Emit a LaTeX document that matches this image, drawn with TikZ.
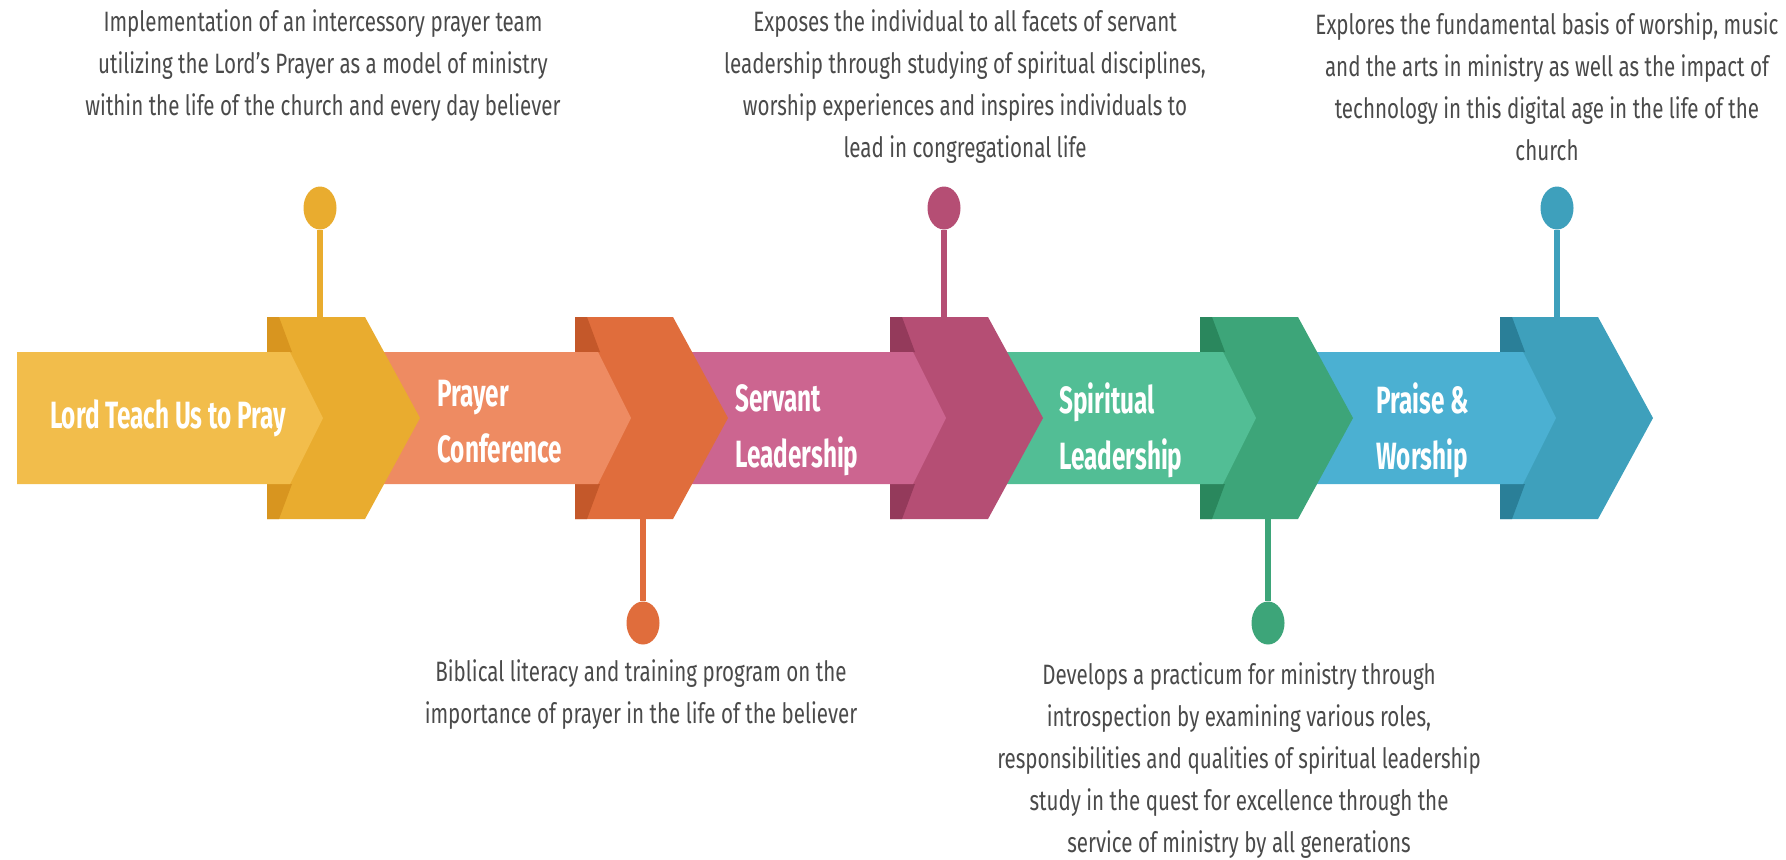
\documentclass[tikz,border=0pt]{standalone}
\usepackage{fontspec}
\setmainfont{Fira Sans}[FakeStretch=0.735]
\newfontfamily\tightfont{Fira Sans}[FakeStretch=0.64]
\usetikzlibrary{shapes.geometric}
\definecolor{GoldA}{HTML}{F2BD4B}\definecolor{GoldB}{HTML}{E9AC2F}\definecolor{GoldC}{HTML}{D8951F}
\definecolor{RustA}{HTML}{EE8B62}\definecolor{RustB}{HTML}{E06D3C}\definecolor{RustC}{HTML}{C4582A}
\definecolor{PlumA}{HTML}{CC6590}\definecolor{PlumB}{HTML}{B54E74}\definecolor{PlumC}{HTML}{943A5B}
\definecolor{MintA}{HTML}{52BE95}\definecolor{MintB}{HTML}{3DA579}\definecolor{MintC}{HTML}{2A875D}
\definecolor{SkyA}{HTML}{4BB0D2}\definecolor{SkyB}{HTML}{3EA0BC}\definecolor{SkyC}{HTML}{2A7F98}
\definecolor{Note}{HTML}{4A4A4A}

\begin{document}
\begin{tikzpicture}[x=.5pt,y=-.5pt,
  lbl/.style={text=white,font=\tightfont\fontsize{19}{28}\selectfont\bfseries,align=left,inner sep=0pt},
  note/.style={text=Note,font=\fontsize{14}{21}\selectfont,align=center,inner sep=0pt},
  dot/.style={ellipse,minimum width=16.5pt,minimum height=21.5pt,inner sep=0pt},
  stem/.style={line width=3pt}]
\useasboundingbox (0,0) rectangle (1786,859);
% right to left, so each chevron hides the start of the next bar
\foreach \c/\s/\lt/\dk/\fd in {1500/1298/SkyA/SkyB/SkyC,1200/988/MintA/MintB/MintC,
  890/673/PlumA/PlumB/PlumC,575/365/RustA/RustB/RustC,267/17/GoldA/GoldB/GoldC}{
\fill[\dk](\c,317)--++(98,0)--++(55,101)--++(-55,101)--++(-98,0)--cycle;
\fill[\fd](\c,317)--++(12,0)--++(13,35)--(\c,352)--cycle;
\fill[\fd](\c,519)--++(12,0)--++(13,-35)--(\c,484)--cycle;
\fill[\lt](\s,352)--(\c+23,352)--(\c+56,418)--(\c+23,484)--(\s,484)--cycle;}
\node[lbl,align=center](l1)at(168,418){Lord Teach Us to Pray};
\node[lbl,anchor=west](l2)at(437,422){Prayer\\Conference};
\node[lbl,anchor=west](l3)at(735,430){Servant\\Leadership};
\node[lbl,anchor=west](l4)at(1059,430){Spiritual\\Leadership};
\node[lbl,anchor=west](l5)at(1376,430){Praise \&\\Worship};
% pins
\foreach \n/\x/\y/\e/\col in {1/320/208/317/GoldB,2/643/623/519/RustB,3/944/208/317/PlumB,
  4/1268/623/519/MintB,5/1557/208/317/SkyB}{
\node[dot,fill=\col](d\n)at(\x,\y){};
\coordinate(e\n)at(\x,\e);
\draw[stem,\col](d\n)--(e\n);}
\node[note](n1)at(323,66){Implementation of an intercessory prayer team\\utilizing the Lord's Prayer as a model of ministry\\within the life of the church and every day believer};
\node[note](n3)at(965,87){Exposes the individual to all facets of servant\\leadership through studying of spiritual disciplines,\\worship experiences and inspires individuals to\\lead in congregational life};
\node[note](n5)at(1547,87){Explores the fundamental basis of worship, music\\and the arts in ministry as well as the impact of\\technology in this digital age in the life of the\\church};
\node[note](n2)at(641,695){Biblical literacy and training program on the\\importance of prayer in the life of the believer};
\node[note](n4)at(1239,761){Develops a practicum for ministry through\\introspection by examining various roles,\\responsibilities and qualities of spiritual leadership\\study in the quest for excellence through the\\service of ministry by all generations};
\end{tikzpicture}
\end{document}
